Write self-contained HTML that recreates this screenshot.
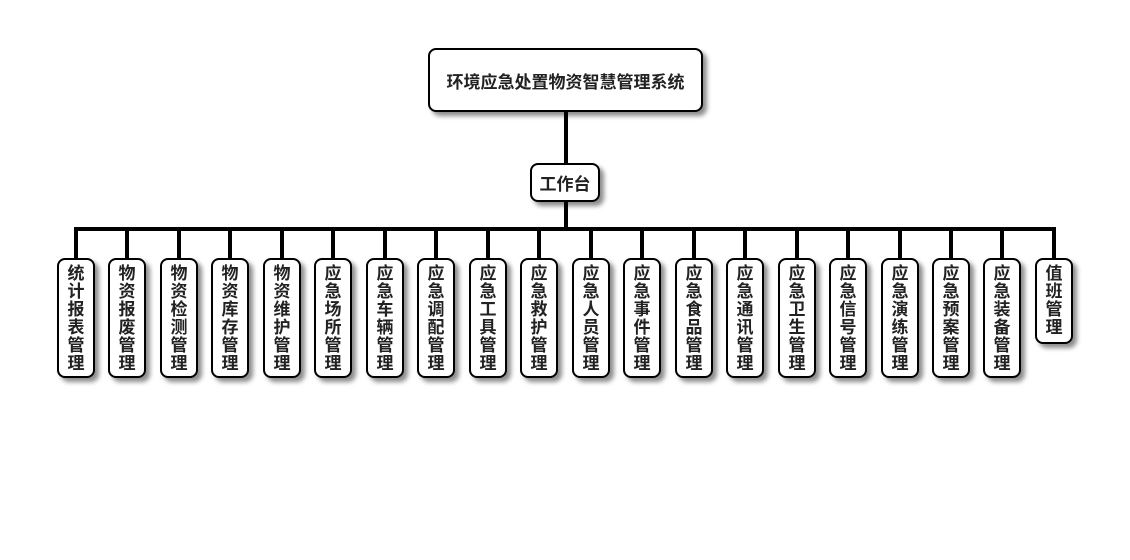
<!DOCTYPE html>
<html><head><meta charset="utf-8"><style>
body{margin:0;background:#fff;}
#c{position:relative;width:1130px;height:560px;overflow:hidden;font-family:"Liberation Sans","Noto Sans CJK SC",sans-serif;font-weight:bold;color:#222;}
.b{position:absolute;box-sizing:border-box;border:2px solid #000;border-radius:8px;background:#fff;box-shadow:4px 4px 5px rgba(0,0,0,0.45);display:flex;align-items:center;justify-content:center;text-align:center;}
.l{position:absolute;background:#000;}
.k{width:38px;top:258px;height:120px;font-size:17px;line-height:18px;align-items:flex-start;padding-top:5px;}
.k span{display:block;width:18px;word-break:break-all;}
</style></head><body><div id="c">
<div class="l" style="left:564px;top:112px;width:4px;height:52px"></div>
<div class="l" style="left:564px;top:202px;width:4px;height:27px"></div>
<div class="l" style="left:74px;top:227px;width:982px;height:4px"></div>
<div class="b" style="left:428px;top:48px;width:275px;height:64px;font-size:17px">环境应急处置物资智慧管理系统</div>
<div class="b" style="left:530px;top:163px;width:70px;height:39px;font-size:17px">工作台</div>
<div id="kids"></div>
</div>
<script>
var n=["统计报表管理","物资报废管理","物资检测管理","物资库存管理","物资维护管理","应急场所管理","应急车辆管理","应急调配管理","应急工具管理","应急救护管理","应急人员管理","应急事件管理","应急食品管理","应急通讯管理","应急卫生管理","应急信号管理","应急演练管理","应急预案管理","应急装备管理","值班管理"];
var h="";
for(var i=0;i<n.length;i++){var cx=Math.round(76+i*51.47);
h+='<div class="l" style="left:'+(cx-2)+'px;top:229px;width:4px;height:30px"></div>';
h+='<div class="b k" style="left:'+(cx-19)+'px;'+(i==19?'height:86px;':'')+'"><span>'+n[i]+'</span></div>';}
document.getElementById("kids").innerHTML=h;
</script>
</body></html>
